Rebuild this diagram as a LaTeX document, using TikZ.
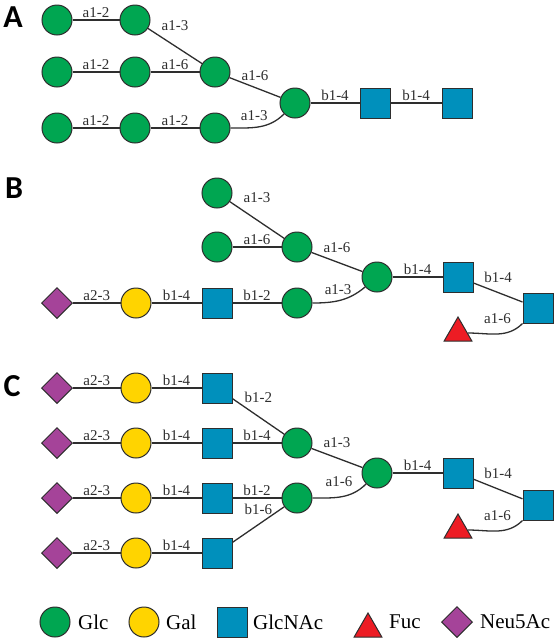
\documentclass[tikz,border=0pt]{standalone}
\usepackage{fontspec}
\setmainfont{Liberation Serif}
\newfontfamily\panelfont{Carlito}
\usepackage{xcolor}
\usetikzlibrary{shapes.geometric}
\definecolor{glc_green}{HTML}{00A651}
\definecolor{gal_yellow}{HTML}{FFD400}
\definecolor{gn_blue}{HTML}{0090BC}
\definecolor{fuc_red}{HTML}{ED1C24}
\definecolor{neu_purple}{HTML}{A54399}
\definecolor{d_gray}{HTML}{2E2E2E}

\begin{document}
\begin{tikzpicture}[x=1pt,y=-1pt,
  sugar/.style={draw=d_gray,line width=1pt,inner sep=0pt},
  glc/.style={sugar,circle,minimum size=30pt,fill=glc_green},
  gal/.style={sugar,circle,minimum size=30pt,fill=gal_yellow},
  glcnac/.style={sugar,rectangle,minimum size=30pt,fill=gn_blue},
  fuc/.style={sugar,regular polygon,regular polygon sides=3,minimum size=32pt,fill=fuc_red},
  neu/.style={sugar,diamond,minimum width=31pt,minimum height=31pt,fill=neu_purple},
  link/.style={d_gray,line width=1.3pt},
  lbl/.style={font=\fontsize{15}{17}\selectfont,inner sep=0.5pt,above=1.5pt},
  panel/.style={font=\panelfont\bfseries\fontsize{32}{34}\selectfont,inner sep=0pt},
  legtxt/.style={font=\fontsize{21}{24}\selectfont,anchor=west,inner sep=0pt}]
\useasboundingbox (0,0) rectangle (555,638);

% A
\node[panel] (pA) at (13,17) {A};
\node[glc] (a1) at (57,20) {};
\node[glc] (a2) at (135,20) {};
\node[glc] (a3) at (57,72) {};
\node[glc] (a4) at (135,72) {};
\node[glc] (a5) at (215,72) {};
\node[glc] (a6) at (57,128) {};
\node[glc] (a7) at (135,128) {};
\node[glc] (a8) at (215,128) {};
\node[glc] (a9) at (295,103) {};
\node[glcnac] (a10) at (375,103) {};
\node[glcnac] (a11) at (457,103) {};

\draw[link] (a1) -- node[lbl] {a1-2} (a2);
\draw[link] (a2) -- node[lbl,above=12.5pt] {a1-3} (a5);
\draw[link] (a3) -- node[lbl] {a1-2} (a4);
\draw[link] (a4) -- node[lbl] {a1-6} (a5);
\draw[link] (a6) -- node[lbl] {a1-2} (a7);
\draw[link] (a7) -- node[lbl] {a1-2} (a8);
\draw[link] (a5) -- node[lbl,above=4.5pt] {a1-6} (a9);
\draw[link] (a8) to[out=0,in=225] node[lbl,pos=0.4,above=4.5pt] {a1-3} (a9);
\draw[link] (a9) -- node[lbl] {b1-4} (a10);
\draw[link] (a10) -- node[lbl] {b1-4} (a11);

% B
\node[panel] (pB) at (14,188) {B};
\node[glc] (b1) at (217,193) {};
\node[glc] (b2) at (217,247) {};
\node[glc] (b3) at (297,247) {};
\node[neu] (b4) at (57,303) {};
\node[gal] (b5) at (136,303) {};
\node[glcnac] (b6) at (217,303) {};
\node[glc] (b7) at (297,303) {};
\node[glc] (b8) at (377,277) {};
\node[glcnac] (b9) at (458,277) {};
\node[glcnac] (b10) at (538,308) {};
\node[fuc] (b11) at (458,333) {};

\draw[link] (b1) -- node[lbl,above=14.5pt] {a1-3} (b3);
\draw[link] (b2) -- node[lbl] {a1-6} (b3);
\draw[link] (b3) -- node[lbl,above=6.5pt] {a1-6} (b8);
\draw[link] (b4) -- node[lbl] {a2-3} (b5);
\draw[link] (b5) -- node[lbl] {b1-4} (b6);
\draw[link] (b6) -- node[lbl] {b1-2} (b7);
\draw[link] (b7) to[out=0,in=220] node[lbl,pos=0.45,above=4pt] {a1-3} (b8);
\draw[link] (b8) -- node[lbl] {b1-4} (b9);
\draw[link] (b9) -- node[lbl,above=7.5pt] {b1-4} (b10);
\draw[link] (b11) to[out=0,in=225] node[lbl,above=8pt] {a1-6} (b10);

% C
\node[panel] (pC) at (12,386) {C};
\foreach \i/\y in {1/388,2/443,3/498,4/553}{
  \node[neu] (cn\i) at (57,\y) {};
  \node[gal] (cg\i) at (136,\y) {};
  \node[glcnac] (cs\i) at (217,\y) {};
  \draw[link] (cn\i) -- node[lbl] {a2-3} (cg\i);
  \draw[link] (cg\i) -- node[lbl] {b1-4} (cs\i);
}
\node[glc] (c1) at (297,443) {};
\node[glc] (c2) at (297,498) {};
\node[glc] (c3) at (377,473) {};
\node[glcnac] (c4) at (458,473) {};
\node[glcnac] (c5) at (538,505) {};
\node[fuc] (c6) at (458,530) {};

\draw[link] (cs1) -- node[lbl,above=11.5pt] {b1-2} (c1);
\draw[link] (cs2) -- node[lbl] {b1-4} (c1);
\draw[link] (cs3) -- node[lbl] {b1-2} (c2);
\draw[link] (cs4) -- node[lbl,above=7.5pt] {b1-6} (c2);
\draw[link] (c1) -- node[lbl,above=7.5pt] {a1-3} (c3);
\draw[link] (c2) to[out=0,in=225] node[lbl,pos=0.45,above=7.5pt] {a1-6} (c3);
\draw[link] (c3) -- node[lbl] {b1-4} (c4);
\draw[link] (c4) -- node[lbl,above=8pt] {b1-4} (c5);
\draw[link] (c6) to[out=0,in=225] node[lbl,above=8pt] {a1-6} (c5);

% legend
\node[glc] (kglc) at (55,622) {};
\node[legtxt] (tglc) at (78,622) {Glc};
\node[gal] (kgal) at (144,622) {};
\node[legtxt] (tgal) at (166,622) {Gal};
\node[glcnac] (kgn) at (232,622) {};
\node[legtxt] (tgn) at (253,622) {GlcNAc};
\node[fuc] (kfuc) at (368,629) {};
\node[legtxt] (tfuc) at (389,622) {Fuc};
\node[neu] (kneu) at (457,622) {};
\node[legtxt] (tneu) at (480,622) {Neu5Ac};

\end{tikzpicture}
\end{document}
